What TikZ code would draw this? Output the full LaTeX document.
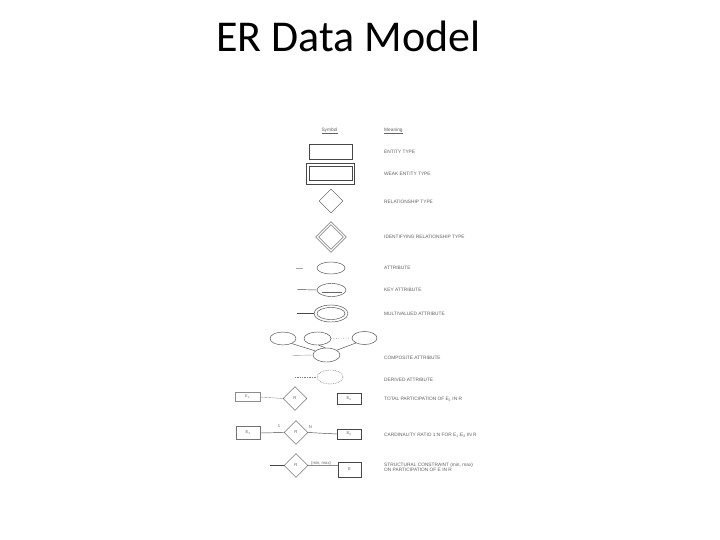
\documentclass[tikz,border=0pt]{standalone}
\usepackage{fontspec}
\setmainfont{Liberation Sans}
\newfontfamily\titlefont{Carlito}
\usetikzlibrary{shapes.geometric}
\begin{document}
\begin{tikzpicture}[x=1pt,y=-1pt,
  ln/.style={draw=black!72,line width=0.45pt},
  tiny/.style={font=\fontsize{4.8}{5.4}\selectfont,text=black!62,inner sep=0pt},
  mean/.style={tiny,anchor=west},
  ent/.style={ln,rectangle,inner sep=0pt},
  rel/.style={ln,diamond,inner sep=0pt,aspect=1},
  att/.style={ln,ellipse,inner sep=0pt},
  lbl/.style={font=\fontsize{4.2}{5}\selectfont,text=black!60,inner sep=0pt}]
\useasboundingbox (0,0) rectangle (720,540);
\fill[white] (0,0) rectangle (720,540);
% title
\node[font=\titlefont\fontsize{44}{48}\selectfont,anchor=base,inner sep=0pt] (title) at (348.5,52) {ER Data Model};
% headers
\node[tiny] (hsym) at (329.5,131) {\underline{Symbol}};
\node[tiny,anchor=west] (hmean) at (384,131) {\underline{Meaning}};
% entity type
\node[ent,minimum width=43pt,minimum height=15pt] (ent) at (330.5,152) {};
\node[mean] (tent) at (384,152) {ENTITY TYPE};
% weak entity
\node[ent,minimum width=48pt,minimum height=21pt] (weako) at (330,173.5) {};
\node[ent,minimum width=43pt,minimum height=14pt] (weaki) at (330.5,173.5) {};
\node[mean] (tweak) at (384,173.5) {WEAK ENTITY TYPE};
% relationship
\node[rel,minimum size=24pt] (rel) at (331,201) {};
\node[mean] (trel) at (384,202) {RELATIONSHIP TYPE};
% identifying relationship
\node[rel,minimum size=31pt] (idro) at (331,237) {};
\node[rel,minimum size=25pt] (idri) at (331,237) {};
\node[mean] (tidr) at (384,237) {IDENTIFYING RELATIONSHIP TYPE};
% attribute
\node[att,minimum width=28pt,minimum height=12pt] (att) at (331,268) {};
\coordinate (atl) at (296,268);
\draw[draw=black!35,line width=0.4pt] (atl) -- ++(7,0);
\node[mean] (tatt) at (384,268) {ATTRIBUTE};
% key attribute
\node[att,minimum width=29pt,minimum height=13pt] (key) at (331.5,290) {};
\coordinate (keyl) at (297,289.5);
\draw[ln] (keyl) -- (key.west);
\draw[draw=black!60,line width=0.4pt] ([xshift=-10pt,yshift=-2pt]key.center) -- ([xshift=10pt,yshift=-2pt]key.center);
\node[mean] (tkey) at (384,290) {KEY ATTRIBUTE};
% multivalued
\node[att,minimum width=34pt,minimum height=17pt] (mvo) at (331,313.5) {};
\node[att,minimum width=28pt,minimum height=12pt] (mvi) at (331,313.5) {};
\coordinate (mvl) at (297,313.5);
\draw[ln] (mvl) -- (mvo.west);
\node[mean] (tmv) at (384,314) {MULTIVALUED ATTRIBUTE};
% composite
\node[att,minimum width=26pt,minimum height=13pt] (ca) at (283,338.5) {};
\node[att,minimum width=27pt,minimum height=13pt] (cb) at (317.5,338.5) {};
\node[att,minimum width=25pt,minimum height=13pt] (cc) at (364.5,338) {};
\node[att,minimum width=27pt,minimum height=14pt] (cd) at (326.5,355) {};
\draw[ln] (ca.-30) -- (cd.160);
\draw[ln] (cb.-80) -- (cd.100);
\draw[ln] (cc.-150) -- (cd.25);
\draw[ln,dotted] (cb.east) -- (cc.west);
\coordinate (cdl) at (292,355.5);
\draw[draw=black!40,line width=0.4pt] (cdl) -- (cd.west);
\node[mean] (tcomp) at (384,358) {COMPOSITE ATTRIBUTE};
% derived
\node[att,draw=black!55,dash pattern=on 0.8pt off 0.9pt,minimum width=26pt,minimum height=14pt] (der) at (330,377) {};
\coordinate (derl) at (295,377);
\draw[draw=black!50,line width=0.4pt,dash pattern=on 0.8pt off 0.9pt] (derl) -- (der.west);
\node[mean] (tder) at (384,380) {DERIVED ATTRIBUTE};
% total participation
\node[ent,draw=black!45,minimum width=25pt,minimum height=9pt] (e1a) at (247.5,397) {\fontsize{3.8}{4}\selectfont\color{black!60}E\textsubscript{1}};
\node[rel,minimum size=24pt] (ra) at (295,398.5) {};
\node[lbl] (ral) at (295,398.5) {R};
\node[ent,minimum width=24pt,minimum height=11pt] (e2a) at (349,398.5) {};
\node[lbl] (e2al) at (349,398.5) {E\textsubscript{2}};
\draw[draw=black!40,line width=0.4pt] (e1a.east) -- (ra.west);
\draw[draw=black!75,line width=0.35pt,double,double distance=0.6pt] (ra.east) -- (e2a.west);
\node[mean] (ttot) at (384,399) {TOTAL PARTICIPATION OF E\textsubscript{2} IN R};
% cardinality
\node[ent,draw=black!55,minimum width=24pt,minimum height=13pt] (e1b) at (248,433) {};
\node[lbl] (e1bl) at (248,433) {E\textsubscript{1}};
\node[rel,minimum size=24pt] (rb) at (296,432.5) {};
\node[lbl] (rbl) at (296,432.5) {R};
\node[ent,minimum width=24pt,minimum height=10pt] (e2b) at (349,434) {};
\node[lbl] (e2bl) at (349,434) {E\textsubscript{2}};
\draw[ln] (e1b.east) -- (rb.west);
\draw[ln] (rb.east) -- (e2b.west);
\node[lbl] (one) at (279,426.5) {1};
\node[lbl] (enn) at (310.5,427) {N};
\node[mean] (tcard) at (384,435) {CARDINALITY RATIO 1:N FOR E\textsubscript{1}:E\textsubscript{2} IN R};
% structural constraint
\node[rel,minimum size=24pt] (rc) at (296,465.5) {};
\node[lbl] (rcl) at (296,465.5) {R};
\node[ent,minimum width=23pt,minimum height=15pt] (ec) at (349.5,469.5) {};
\node[lbl] (ecl) at (349.5,469.5) {E};
\coordinate (rcl0) at (270,465.5);
\draw[ln] (rcl0) -- (rc.west);
\draw[draw=black!45,line width=0.4pt] (rc.east) -- (ec.west |- rc.east);
\node[lbl,anchor=west] (mm) at (311,463) {(min, max)};
\node[mean,align=left] (tstr) at (384,467.5) {STRUCTURAL CONSTRAINT (min, max)\\ON PARTICIPATION OF E IN R};
\end{tikzpicture}
\end{document}
